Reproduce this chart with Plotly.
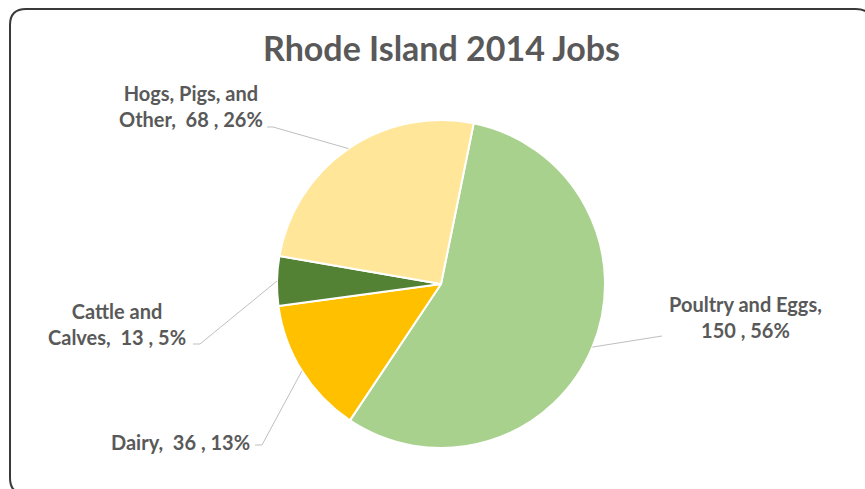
import math
import plotly.graph_objects as go

# Rhode Island agricultural jobs, 2014
categories = ["Poultry and Eggs", "Dairy", "Cattle and Calves", "Hogs, Pigs, and Other"]
jobs = [150, 36, 13, 68]
percent_labels = ["56%", "13%", "5%", "26%"]
colors = ["#A9D18E", "#FFC000", "#548235", "#FFE699"]

W, H = 865, 489
CX, CY, R = 441, 284, 164      # pie centre and radius in pixels
ROTATION = 11.5                 # first slice starts just right of 12 o'clock

TEXT_COLOR = "#595959"
LEADER_COLOR = "#BFBFBF"
FONT = "Lato"


def px(x):
    return x / W


def py(y):
    return 1 - y / H


fig = go.Figure()
fig.add_trace(go.Pie(
    labels=categories,
    values=jobs,
    sort=False,
    direction="clockwise",
    rotation=ROTATION,
    marker=dict(colors=colors, line=dict(color="white", width=2)),
    textinfo="none",
    hoverinfo="label+value+percent",
    domain=dict(x=[px(CX - R), px(CX + R)], y=[py(CY + R), py(CY - R)]),
    showlegend=False,
))

# label text and placement (centre of the text block, pixels) plus the
# elbow of each leader line next to the text
label_text = [
    f"Poultry and Eggs,<br>{jobs[0]} , {percent_labels[0]}",
    f"Dairy,  {jobs[1]} , {percent_labels[1]}",
    f"Cattle and<br>Calves,  {jobs[2]} , {percent_labels[2]}",
    f"Hogs, Pigs, and<br>Other,  {jobs[3]} , {percent_labels[3]}",
]
label_pos = [(745, 317), (180, 442), (117, 324), (191, 106)]
leader_end = [[(662, 336)], [(255, 445), (262, 445)],
              [(193, 344), (200, 344)], [(267, 127), (273, 127)]]

total = sum(jobs)
start = ROTATION
shapes = []
annotations = []
for i, v in enumerate(jobs):
    span = v / total * 360
    mid = math.radians(start + span / 2)
    start += span
    ax = CX + R * math.sin(mid)
    ay = CY - R * math.cos(mid)
    pts = leader_end[i] + [(ax, ay)]
    path = "M " + " L ".join(f"{px(x):.5f} {py(y):.5f}" for x, y in pts)
    shapes.append(dict(type="path", xref="paper", yref="paper", path=path,
                       line=dict(color=LEADER_COLOR, width=1)))
    lx, ly = label_pos[i]
    annotations.append(dict(
        x=px(lx), y=py(ly), xref="paper", yref="paper",
        text=f"<b>{label_text[i]}</b>", showarrow=False,
        xanchor="center", yanchor="middle", align="center",
        font=dict(family=FONT, size=20, color=TEXT_COLOR),
    ))

annotations.append(dict(
    x=px(442), y=py(47), xref="paper", yref="paper",
    text="<b>Rhode Island 2014 Jobs</b>", showarrow=False,
    xanchor="center", yanchor="middle",
    font=dict(family=FONT, size=34, color=TEXT_COLOR),
))

# rounded chart frame
x0, y0, x1, y1, r = 10, 9, 872, 494, 16
frame = (
    f"M {px(x0 + r)} {py(y0)} L {px(x1 - r)} {py(y0)} "
    f"Q {px(x1)} {py(y0)} {px(x1)} {py(y0 + r)} L {px(x1)} {py(y1 - r)} "
    f"Q {px(x1)} {py(y1)} {px(x1 - r)} {py(y1)} L {px(x0 + r)} {py(y1)} "
    f"Q {px(x0)} {py(y1)} {px(x0)} {py(y1 - r)} L {px(x0)} {py(y0 + r)} "
    f"Q {px(x0)} {py(y0)} {px(x0 + r)} {py(y0)} Z"
)
shapes.append(dict(type="path", xref="paper", yref="paper", path=frame,
                   line=dict(color="#3A3A3A", width=2)))

fig.update_layout(
    width=W, height=H,
    margin=dict(l=0, r=0, t=0, b=0),
    paper_bgcolor="white", plot_bgcolor="white",
    shapes=shapes, annotations=annotations,
)

fig.write_html("out.html")
